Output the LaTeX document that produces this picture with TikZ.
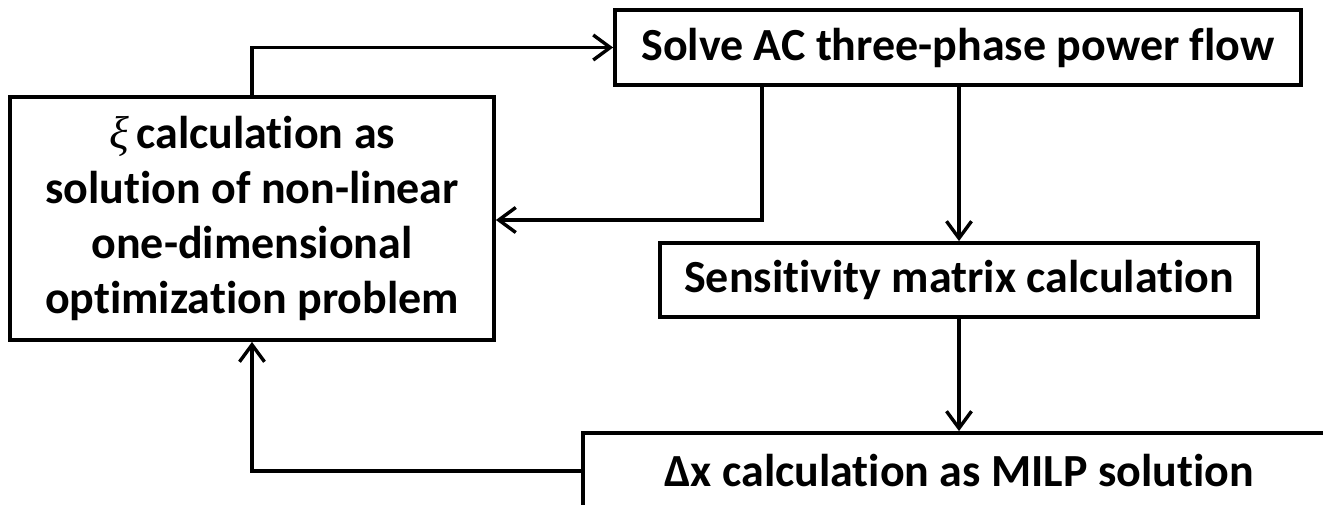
\documentclass[tikz,border=0pt]{standalone}
\usepackage{fontspec}
\setmainfont[Ligatures={NoCommon,NoContextual}]{Carlito}
\newfontfamily\greekit[Ligatures=NoCommon]{Liberation Serif}
\usetikzlibrary{arrows.meta}
\begin{document}
\begin{tikzpicture}[x=1pt,y=-1pt,
  box/.style={draw, line width=3.8pt, inner sep=0pt, align=center,
    font=\fontsize{46}{55}\selectfont\bfseries},
  conn/.style={line width=3.4pt,
    -{Straight Barb[length=17pt,width=25pt,line width=3.4pt]}}]
\clip (0,0) rectangle (1323,505);
% process boxes
\node[box, minimum width=686pt, minimum height=75pt] (solve) at (958,47.5)
  {Solve AC three-phase power flow};
\node[box, minimum width=484pt, minimum height=243pt] (xi) at (252,218.5)
  {{\greekit\mdseries\itshape ξ}\,calculation as\\ solution of non-linear\\ one-dimensional\\ optimization problem};
\node[box, minimum width=598pt, minimum height=74pt] (sens) at (959,280)
  {Sensitivity matrix calculation};
\node[box, minimum width=752pt, minimum height=76pt] (milp) at (959,471)
  {Δx calculation as MILP solution};
% connectors
\coordinate (turn) at (762,220);
\draw[conn] (xi.north) |- (solve.west);
\draw[conn] (solve.south -| turn) |- (xi.east |- turn);
\draw[conn] (solve.south -| sens.north) -- (sens.north);
\draw[conn] (sens.south) -- (milp.north);
\draw[conn] (milp.west) -| (xi.south);
\end{tikzpicture}
\end{document}
